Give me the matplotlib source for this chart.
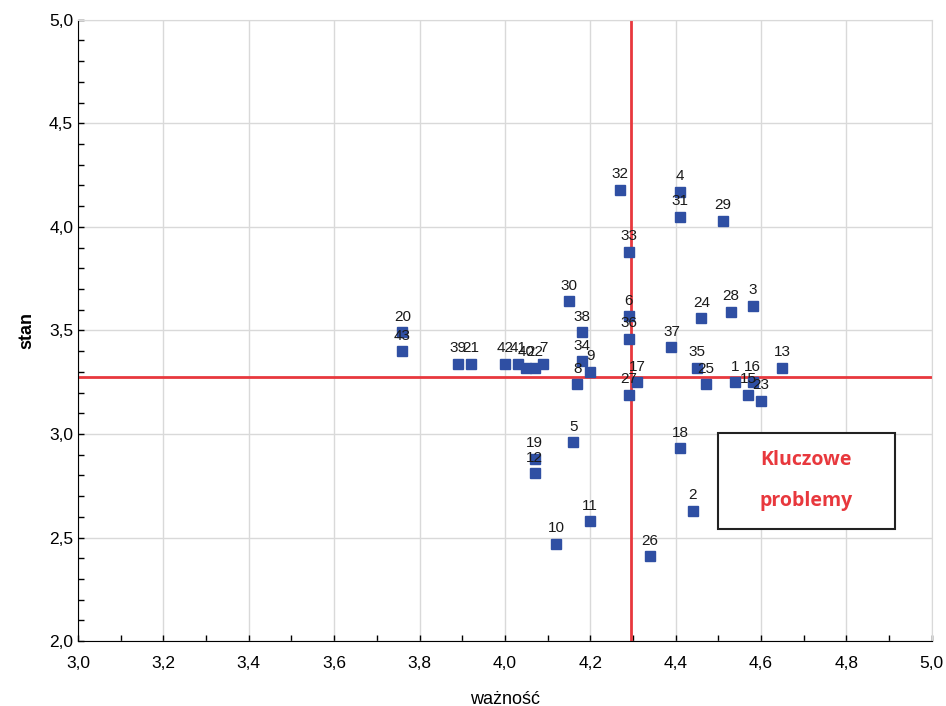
import numpy as np
import matplotlib.pyplot as plt
from matplotlib.ticker import MultipleLocator, FuncFormatter

plt.rcParams['font.family'] = ['Liberation Sans', 'DejaVu Sans']

# dane: numer problemu, waznosc (x), stan (y)
etykiety = ['1', '2', '3', '4', '5', '6', '7', '8', '9', '10',
            '11', '12', '13', '15', '16', '17', '18', '19', '20', '21',
            '22', '23', '24', '25', '26', '27', '28', '29', '30', '31',
            '32', '33', '34', '35', '36', '37', '38', '39', '40', '41',
            '42', '43']
waznosc = [4.54, 4.44, 4.58, 4.41, 4.16, 4.29, 4.09, 4.17, 4.20, 4.12,
           4.20, 4.07, 4.65, 4.57, 4.58, 4.31, 4.41, 4.07, 3.76, 3.92,
           4.07, 4.60, 4.46, 4.47, 4.34, 4.29, 4.53, 4.51, 4.15, 4.41,
           4.27, 4.29, 4.18, 4.45, 4.29, 4.39, 4.18, 3.89, 4.05, 4.03,
           4.00, 3.76]
stan = [3.25, 2.63, 3.62, 4.17, 2.96, 3.57, 3.34, 3.24, 3.30, 2.47,
        2.58, 2.81, 3.32, 3.19, 3.25, 3.25, 2.93, 2.88, 3.49, 3.34,
        3.32, 3.16, 3.56, 3.24, 2.41, 3.19, 3.59, 4.03, 3.64, 4.05,
        4.18, 3.88, 3.35, 3.32, 3.46, 3.42, 3.49, 3.34, 3.32, 3.34,
        3.34, 3.40]

srednia_x = 4.295
srednia_y = 3.275

fig = plt.figure(figsize=(9.46, 7.06), dpi=100)
ax = fig.add_axes([0.0825, 0.092, 0.9025, 0.88])

ax.grid(True, color='#d9d9d9', linewidth=1)
ax.set_axisbelow(True)

ax.axvline(srednia_x, color='#e8383d', linewidth=2, zorder=2)
ax.axhline(srednia_y, color='#e8383d', linewidth=2, zorder=2)

ax.plot(waznosc, stan, 's', color='#2f4fa3', ms=6.5, zorder=3)
for et, x, y in zip(etykiety, waznosc, stan):
    ax.annotate(et, (x, y), xytext=(0, 6), textcoords='offset points',
                ha='center', va='bottom', fontsize=11, color='#1a1a1a', zorder=4)

ax.set_xlim(3.0, 5.0)
ax.set_ylim(2.0, 5.0)
ax.xaxis.set_major_locator(MultipleLocator(0.2))
ax.xaxis.set_minor_locator(MultipleLocator(0.1))
ax.yaxis.set_major_locator(MultipleLocator(0.5))
ax.yaxis.set_minor_locator(MultipleLocator(0.1))
przecinek = FuncFormatter(lambda v, p: ('%.1f' % v).replace('.', ','))
ax.xaxis.set_major_formatter(przecinek)
ax.yaxis.set_major_formatter(przecinek)
ax.tick_params(which='both', direction='in', length=4, width=1, labelsize=12.5)
ax.tick_params(axis='x', pad=11)

for s in ['top', 'right']:
    ax.spines[s].set_color('#d9d9d9')
for s in ['left', 'bottom']:
    ax.spines[s].set_color('black')

ax.set_xlabel('ważność', fontsize=13, labelpad=14)
ax.set_ylabel('stan', fontsize=13, fontweight='bold', labelpad=10)

# ramka "Kluczowe problemy"
ax.add_patch(plt.Rectangle((0.749, 0.180), 0.208, 0.155, transform=ax.transAxes,
                           facecolor='white', edgecolor='#222222', linewidth=1.5, zorder=5))
ax.text(0.853, 0.292, 'Kluczowe', transform=ax.transAxes, ha='center', va='center',
        fontsize=14, fontweight='bold', color='#e8383d', family='Open Sans', zorder=6)
ax.text(0.853, 0.225, 'problemy', transform=ax.transAxes, ha='center', va='center',
        fontsize=14, fontweight='bold', color='#e8383d', family='Open Sans', zorder=6)

plt.savefig('out.png', dpi=100)
